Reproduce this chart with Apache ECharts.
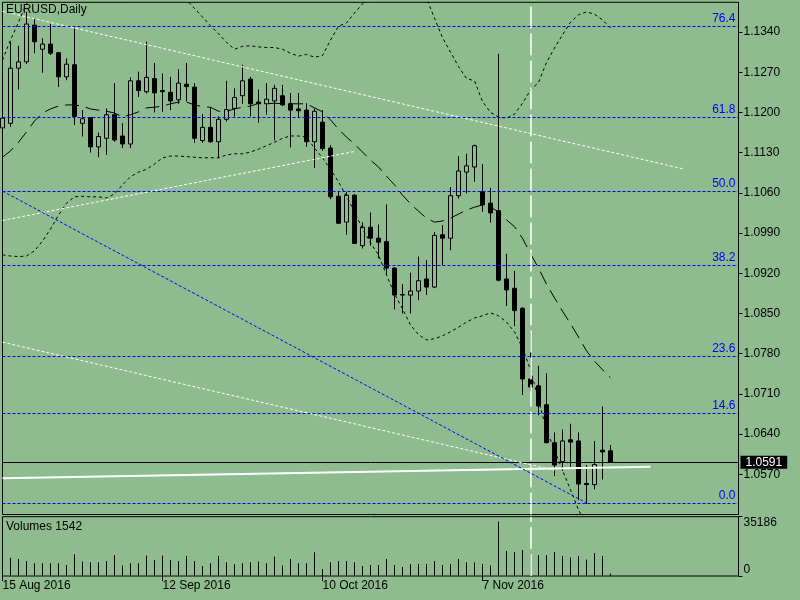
<!DOCTYPE html>
<html lang="en">
<head>
  <meta charset="UTF-8" />
  <title>EURUSD,Daily</title>
  <script src="https://cdn.jsdelivr.net/npm/echarts@6/dist/echarts.min.js"></script>
  <style>
    html, body { margin: 0; padding: 0; background: #8fbc8f; }
    #main { width: 800px; height: 600px; }
  </style>
</head>
<body>
  <div id="main"></div>
<script>
  // trading days shown on the chart
  var dates = [
    "2016.08.15", "2016.08.16", "2016.08.17", "2016.08.18", "2016.08.19",
    "2016.08.22", "2016.08.23", "2016.08.24", "2016.08.25", "2016.08.26",
    "2016.08.29", "2016.08.30", "2016.08.31", "2016.09.01", "2016.09.02",
    "2016.09.05", "2016.09.06", "2016.09.07", "2016.09.08", "2016.09.09",
    "2016.09.12", "2016.09.13", "2016.09.14", "2016.09.15", "2016.09.16",
    "2016.09.19", "2016.09.20", "2016.09.21", "2016.09.22", "2016.09.23",
    "2016.09.26", "2016.09.27", "2016.09.28", "2016.09.29", "2016.09.30",
    "2016.10.03", "2016.10.04", "2016.10.05", "2016.10.06", "2016.10.07",
    "2016.10.10", "2016.10.11", "2016.10.12", "2016.10.13", "2016.10.14",
    "2016.10.17", "2016.10.18", "2016.10.19", "2016.10.20", "2016.10.21",
    "2016.10.24", "2016.10.25", "2016.10.26", "2016.10.27", "2016.10.28",
    "2016.10.31", "2016.11.01", "2016.11.02", "2016.11.03", "2016.11.04",
    "2016.11.07", "2016.11.08", "2016.11.09", "2016.11.10", "2016.11.11",
    "2016.11.14", "2016.11.15", "2016.11.16", "2016.11.17", "2016.11.18",
    "2016.11.21", "2016.11.22", "2016.11.23", "2016.11.24", "2016.11.25",
    "2016.11.28", "2016.11.29"
  ];

  var open = [
    1.1173, 1.1181, 1.1277, 1.1288, 1.1352, 1.1310, 1.1319, 1.1304, 1.1262, 1.1283,
    1.1181, 1.1191, 1.1140, 1.1155, 1.1196, 1.1159, 1.1145, 1.1255, 1.1236, 1.1259,
    1.1238, 1.1235, 1.1222, 1.1249, 1.1244, 1.1151, 1.1174, 1.1149, 1.1188, 1.1207,
    1.1229, 1.1258, 1.1218, 1.1215, 1.1220, 1.1229, 1.1215, 1.1206, 1.1204, 1.1149,
    1.1183, 1.1138, 1.1054, 1.1009, 1.1056, 1.0968, 1.1000, 1.0981, 1.0975, 1.0929,
    1.0883, 1.0882, 1.0889, 1.0910, 1.0896, 1.0987, 1.0981, 1.1055, 1.1096, 1.1105,
    1.1062, 1.1042, 1.1029, 1.0910, 1.0894, 1.0859, 1.0736, 1.0724, 1.0691, 1.0625,
    1.0592, 1.0630, 1.0628, 1.0554, 1.0552, 1.0612, 1.0611
  ];
  var close = [
    1.1190, 1.1277, 1.1288, 1.1354, 1.1323, 1.1319, 1.1303, 1.1262, 1.1284, 1.1193,
    1.1189, 1.1140, 1.1158, 1.1196, 1.1152, 1.1145, 1.1255, 1.1238, 1.1261, 1.1234,
    1.1236, 1.1220, 1.1251, 1.1245, 1.1155, 1.1174, 1.1149, 1.1188, 1.1205, 1.1226,
    1.1255, 1.1215, 1.1215, 1.1223, 1.1242, 1.1213, 1.1204, 1.1203, 1.1149, 1.1202,
    1.1137, 1.1053, 1.1007, 1.1056, 1.0972, 1.1000, 1.0981, 1.0974, 1.0929, 1.0882,
    1.0882, 1.0889, 1.0907, 1.0896, 1.0986, 1.0981, 1.1055, 1.1098, 1.1107, 1.1142,
    1.1039, 1.1025, 1.0908, 1.0891, 1.0855, 1.0736, 1.0722, 1.0689, 1.0625, 1.0586,
    1.0628, 1.0626, 1.0553, 1.0552, 1.0587, 1.0609, 1.0591
  ];
  var low = [
    1.1168, 1.1175, 1.1240, 1.1284, 1.1303, 1.1269, 1.1300, 1.1244, 1.1256, 1.1178,
    1.1158, 1.1130, 1.1122, 1.1126, 1.1149, 1.1138, 1.1138, 1.1227, 1.1233, 1.1200,
    1.1201, 1.1204, 1.1215, 1.1219, 1.1147, 1.1147, 1.1147, 1.1120, 1.1184, 1.1193,
    1.1215, 1.1193, 1.1182, 1.1196, 1.1151, 1.1211, 1.1139, 1.1190, 1.1140, 1.1103,
    1.1133, 1.1049, 1.1006, 1.0987, 1.0971, 1.0963, 1.0968, 1.0946, 1.0917, 1.0857,
    1.0850, 1.0850, 1.0873, 1.0882, 1.0894, 1.0934, 1.0960, 1.1050, 1.1059, 1.1079,
    1.1027, 1.1008, 1.0906, 1.0863, 1.0828, 1.0708, 1.0714, 1.0673, 1.0624, 1.0567,
    1.0576, 1.0583, 1.0525, 1.0518, 1.0544, 1.0561, 1.0590
  ];
  var high = [
    1.1204, 1.1323, 1.1316, 1.1375, 1.1364, 1.1329, 1.1354, 1.1305, 1.1294, 1.1346,
    1.1204, 1.1192, 1.1165, 1.1207, 1.1251, 1.1181, 1.1261, 1.1271, 1.1323, 1.1286,
    1.1268, 1.1262, 1.1275, 1.1286, 1.1251, 1.1197, 1.1209, 1.1193, 1.1255, 1.1242,
    1.1283, 1.1262, 1.1240, 1.1251, 1.1248, 1.1248, 1.1234, 1.1234, 1.1216, 1.1207,
    1.1204, 1.1143, 1.1062, 1.1062, 1.1058, 1.1009, 1.1026, 1.1005, 1.1040, 1.0930,
    1.0901, 1.0921, 1.0949, 1.0943, 1.0992, 1.1004, 1.1070, 1.1124, 1.1128, 1.1144,
    1.1110, 1.1069, 1.1302, 1.0954, 1.0924, 1.0861, 1.0817, 1.0759, 1.0746, 1.0643,
    1.0648, 1.0658, 1.0643, 1.0586, 1.0628, 1.0688, 1.0621
  ];

  var volumes = [
    9000, 10900, 10130, 8940, 7550, 7550, 7550, 7550, 6560, 12910,
    8540, 8150, 8150, 8940, 12520, 6160, 7550, 7550, 12120, 9540,
    12120, 9540, 8940, 11920, 8940, 5960, 7550, 11920, 8150, 6950,
    7550, 8150, 8540, 7550, 11520, 6160, 10130, 7550, 7550, 14100,
    4170, 8150, 8940, 8940, 8150, 5960, 6560, 6560, 10130, 6560,
    5360, 6950, 7150, 7150, 8940, 6560, 7150, 10130, 8150, 7950,
    7150, 6160, 32380, 14900, 14300, 15500, 13110, 12520, 12520, 14300,
    11920, 10930, 11920, 9730, 13710, 11920, 1542
  ];

  // Bollinger bands
  var bbUpper = [
    1.1291, 1.1326, 1.1357, 1.1389, 1.1410, 1.1425, 1.1435, 1.1440, 1.1443, 1.1445,
    1.1445, 1.1444, 1.1444, 1.1443, 1.1443, 1.1442, 1.1442, 1.1441, 1.1440, 1.1437,
    1.1432, 1.1423, 1.1410, 1.1396, 1.1381, 1.1366, 1.1351, 1.1337, 1.1322, 1.1310,
    1.1315, 1.1316, 1.1314, 1.1313, 1.1313, 1.1310, 1.1303, 1.1298, 1.1301, 1.1296,
    1.1299, 1.1326, 1.1350, 1.1356, 1.1373, 1.1389, 1.1404, 1.1413, 1.1418, 1.1420,
    1.1420, 1.1418, 1.1412, 1.1399, 1.1364, 1.1330, 1.1305, 1.1280, 1.1259, 1.1255,
    1.1219, 1.1200, 1.1192, 1.1190, 1.1197, 1.1216, 1.1239, 1.1252, 1.1287, 1.1312,
    1.1335, 1.1357, 1.1370, 1.1375, 1.1371, 1.1361, 1.1347
  ];
  var bbMiddle = [
    1.1122, 1.1133, 1.1148, 1.1166, 1.1185, 1.1199, 1.1206, 1.1211, 1.1213, 1.1213,
    1.1211, 1.1206, 1.1204, 1.1202, 1.1199, 1.1192, 1.1196, 1.1201, 1.1208, 1.1209,
    1.1211, 1.1215, 1.1218, 1.1218, 1.1213, 1.1210, 1.1209, 1.1202, 1.1202, 1.1206,
    1.1209, 1.1211, 1.1216, 1.1215, 1.1216, 1.1215, 1.1215, 1.1215, 1.1215, 1.1208,
    1.1201, 1.1187, 1.1171, 1.1157, 1.1145, 1.1131, 1.1117, 1.1105, 1.1089, 1.1074,
    1.1056, 1.1041, 1.1028, 1.1016, 1.1009, 1.1011, 1.1016, 1.1023, 1.1030, 1.1035,
    1.1039, 1.1035, 1.1027, 1.1013, 1.1001, 1.0981, 1.0954, 1.0929, 1.0901, 1.0877,
    1.0854, 1.0832, 1.0809, 1.0785, 1.0767, 1.0752, 1.0738
  ];
  var bbLower = [
    1.0952, 1.0950, 1.0949, 1.0950, 1.0959, 1.0976, 1.0997, 1.1021, 1.1042, 1.1053,
    1.1054, 1.1053, 1.1053, 1.1051, 1.1058, 1.1074, 1.1088, 1.1096, 1.1101, 1.1110,
    1.1121, 1.1124, 1.1124, 1.1123, 1.1122, 1.1121, 1.1121, 1.1121, 1.1126, 1.1128,
    1.1128, 1.1131, 1.1136, 1.1142, 1.1148, 1.1155, 1.1159, 1.1159, 1.1157, 1.1138,
    1.1121, 1.1101, 1.1079, 1.1054, 1.1027, 1.0997, 1.0973, 1.0952, 1.0917, 1.0884,
    1.0858, 1.0830, 1.0813, 1.0804, 1.0806, 1.0811, 1.0818, 1.0826, 1.0835, 1.0842,
    1.0846, 1.0851, 1.0846, 1.0835, 1.0818, 1.0790, 1.0752, 1.0699, 1.0647, 1.0612,
    1.0577, 1.0543, 1.0508, 1.0482, 1.0464, 1.0456, 1.0447
  ];

  // long moving average (white), shifted forward past the last bar
  var maLine = [[0, 1.0563], [81, 1.0583]];

  // fibonacci retracement
  var fibRatios = ["0.0", "14.6", "23.6", "38.2", "50.0", "61.8", "76.4"];
  var fibPrices = [1.05192, 1.06758, 1.07751, 1.09335, 1.10623, 1.11911, 1.13496];

  // drawn trend lines [barIndex, price]
  var chanTop = [[0, 1.1376], [85, 1.1102]];
  var chanBottom = [[0, 1.0800], [69, 1.0577]];
  var riseLine = [[0, 1.1012], [44, 1.1132]];
  var blueLine = [[0, 1.1063], [73, 1.0520]];
  var vLineBar = 66;

  var xLabelIdx = [0, 20, 40, 60];
  var lastPrice = close[close.length - 1];
  var volMax = 35186;

  var FONT = "Liberation Sans";
  var BG = "#8fbc8f";
  var FIB = "#0000ff";
  var months = ["Jan", "Feb", "Mar", "Apr", "May", "Jun", "Jul", "Aug", "Sep", "Oct", "Nov", "Dec"];

  // room to the right of the last bar
  var cats = dates.slice();
  for (var k = 0; k < 16; k++) cats.push("f" + k);

  var candles = dates.map(function (d, i) {
    return [open[i], close[i], low[i], high[i]];
  });

  function fmtDate(v) {
    var p = v.split(".");
    return parseInt(p[2], 10) + " " + months[parseInt(p[1], 10) - 1] + " " + p[0];
  }
  function showIdx(i) {
    return xLabelIdx.indexOf(i) >= 0;
  }
  function seg(pts, style) {
    return [
      { coord: pts[0], lineStyle: style, label: { show: false } },
      { coord: pts[1] }
    ];
  }

  // fibo levels get their own series
  var fibMarks = fibPrices.map(function (p, i) {
    return { yAxis: p, label: { formatter: fibRatios[i] } };
  });

  var dotW = { color: "#ffffff", type: [3, 2], width: 1 };
  var objMarks = [];
  objMarks.push({
    yAxis: lastPrice,
    lineStyle: { color: "#000", type: "solid", width: 1 },
    label: {
      show: true, position: "end", formatter: lastPrice.toFixed(4), color: "#fff",
      fontFamily: FONT, fontSize: 12,
      backgroundColor: "#000", padding: [1, 5, 0, 5], lineHeight: 12, distance: 2
    }
  });
  objMarks.push({
    xAxis: vLineBar,
    lineStyle: { color: "#fff", type: [22, 5], width: 1.5 },
    label: { show: false }
  });
  objMarks.push(seg(chanTop, dotW));
  objMarks.push(seg(chanBottom, dotW));
  objMarks.push(seg(riseLine, dotW));
  objMarks.push(seg(blueLine, { color: FIB, type: [3, 2], width: 1 }));

  var txt = { fontFamily: FONT, fontSize: 12, color: "#000" };

  var chart = echarts.init(document.getElementById("main"));

  var option = {
    backgroundColor: BG,
    animation: false,
    title: [
      { text: "EURUSD,Daily", left: 6, top: 4, padding: 0,
        textStyle: { fontFamily: FONT, fontSize: 12, fontWeight: "normal", color: "#000" } },
      { text: "Volumes " + volumes[volumes.length - 1], left: 6, top: 521, padding: 0,
        textStyle: { fontFamily: FONT, fontSize: 12, fontWeight: "normal", color: "#000" } }
    ],
    grid: [
      { left: 2.5, top: 2.3, width: 736, height: 512.2, show: true,
        borderColor: "#000", borderWidth: 1, outerBoundsMode: "none" },
      { left: 2.5, top: 516.7, width: 736, height: 59.3, show: true,
        borderColor: "#000", borderWidth: 1, outerBoundsMode: "none" }
    ],
    xAxis: [
      { type: "category", gridIndex: 0, data: cats, boundaryGap: false,
        axisLine: { show: false }, axisTick: { show: false },
        axisLabel: { show: false }, splitLine: { show: false } },
      { type: "category", gridIndex: 1, data: cats, boundaryGap: false,
        axisLine: { show: false },
        axisTick: { show: true, interval: showIdx, length: 5, lineStyle: { color: "#000" } },
        axisLabel: Object.assign({ show: true, interval: showIdx, formatter: fmtDate,
          align: "left", margin: 4 }, txt),
        splitLine: { show: false } }
    ],
    yAxis: [
      { type: "value", gridIndex: 0, position: "right", min: 1.05, max: 1.13917, interval: 0.007,
        axisLine: { show: true, lineStyle: { color: "#000" } },
        axisTick: { show: true, length: 4, lineStyle: { color: "#000" } },
        axisLabel: Object.assign({ margin: 5, showMinLabel: false, showMaxLabel: false,
          formatter: function (v) { return v.toFixed(4); } }, txt),
        splitLine: { show: false } },
      { type: "value", gridIndex: 1, position: "right", min: 0, max: volMax, interval: volMax,
        axisLine: { show: true, lineStyle: { color: "#000" } },
        axisTick: { show: true, length: 4, lineStyle: { color: "#000" } },
        axisLabel: {
          margin: 5,
          formatter: function (v) { return v >= volMax ? "{t|" + v + "}" : "{b|" + v + "}"; },
          rich: {
            t: { fontFamily: FONT, fontSize: 12, color: "#000", padding: [12, 0, 0, 0] },
            b: { fontFamily: FONT, fontSize: 12, color: "#000", padding: [0, 0, 13, 0] }
          }
        },
        splitLine: { show: false } }
    ],
    series: [
      {
        type: "candlestick", name: "EURUSD", xAxisIndex: 0, yAxisIndex: 0,
        data: candles, barWidth: 5, silent: true, z: 2,
        itemStyle: { color: BG, color0: "#000", borderColor: "#000", borderColor0: "#000", borderWidth: 1 },
        markLine: {
          silent: true, symbol: ["none", "none"], animation: false, precision: 5,
          data: objMarks
        }
      },
      {
        type: "line", name: "Fibo", xAxisIndex: 0, yAxisIndex: 0, data: [],
        symbol: "none", silent: true, z: 4,
        markLine: {
          silent: true, symbol: ["none", "none"], animation: false, precision: 5,
          lineStyle: { color: FIB, type: [3, 2], width: 1 },
          label: { show: true, position: "insideEndTop", color: FIB,
            fontFamily: FONT, fontSize: 12, distance: [3, 2] },
          data: fibMarks
        }
      },
      { type: "line", name: "BB upper", xAxisIndex: 0, yAxisIndex: 0, data: bbUpper,
        symbol: "none", silent: true, z: 3,
        lineStyle: { color: "#000", width: 1, type: [3, 3] } },
      { type: "line", name: "BB middle", xAxisIndex: 0, yAxisIndex: 0, data: bbMiddle,
        symbol: "none", silent: true, z: 3,
        lineStyle: { color: "#000", width: 1, type: [14, 7] } },
      { type: "line", name: "BB lower", xAxisIndex: 0, yAxisIndex: 0, data: bbLower,
        symbol: "none", silent: true, z: 3,
        lineStyle: { color: "#000", width: 1, type: [3, 3] } },
      { type: "line", name: "MA", xAxisIndex: 0, yAxisIndex: 0, data: maLine,
        symbol: "none", silent: true, z: 3,
        lineStyle: { color: "#fff", width: 2 } },
      {
        type: "bar", name: "Volumes", xAxisIndex: 1, yAxisIndex: 1, data: volumes,
        barWidth: 1, silent: true, itemStyle: { color: "#000" },
        markLine: {
          silent: true, symbol: ["none", "none"], animation: false,
          data: [{ xAxis: vLineBar, lineStyle: { color: "#fff", type: [22, 5], width: 1.5 }, label: { show: false } }]
        }
      }
    ]
  };

  chart.setOption(option);
</script>
</body>
</html>
